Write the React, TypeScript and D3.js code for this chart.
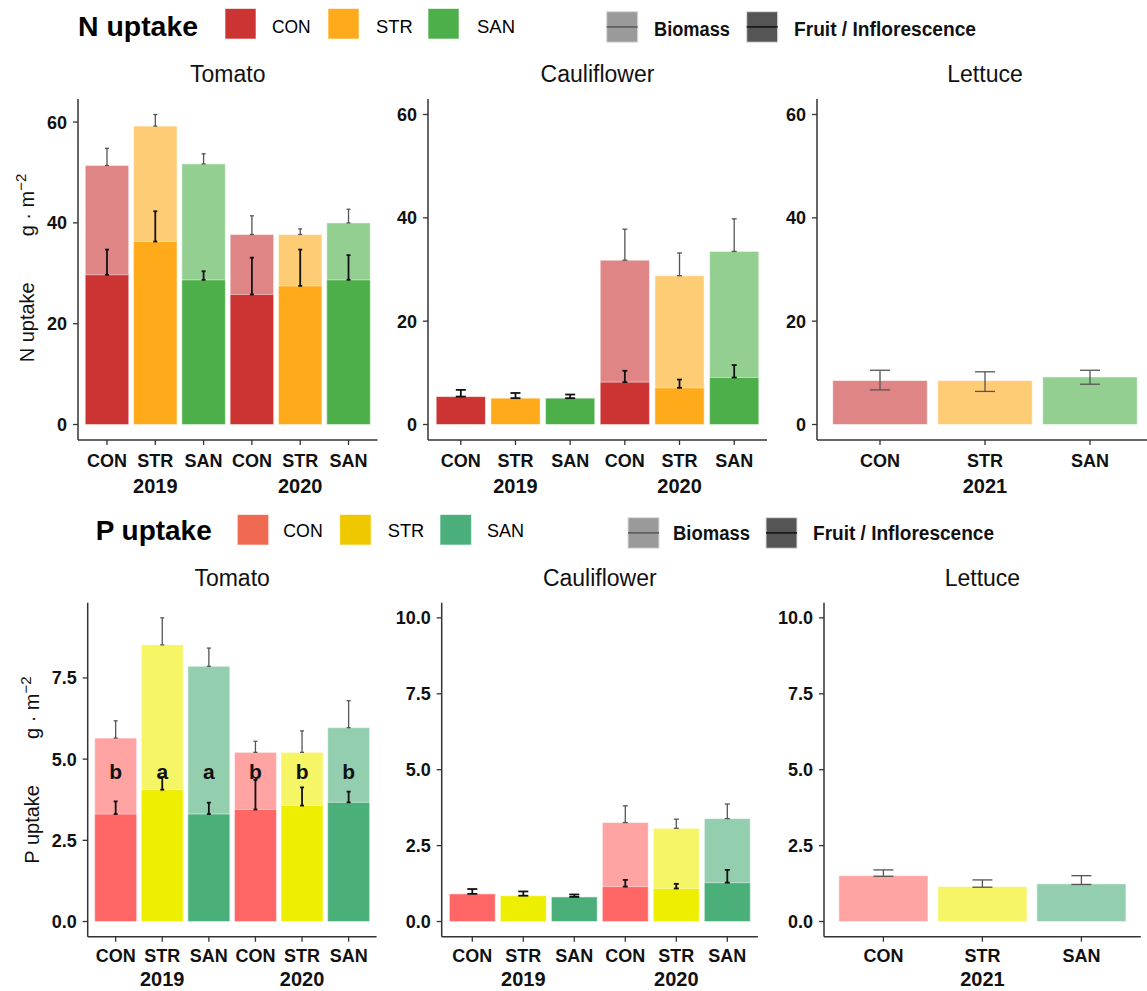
import React from "react";
import * as d3 from "d3";

// treatments and colours
const treatments = ["CON", "STR", "SAN"];
const nColors = ["#CC3333", "#FFAA1A", "#4DAF4A"];
const pColors = ["#FF6666", "#EEEE00", "#4BAF7A"];
const pLegendColors = ["#EF6A51", "#F0C800", "#4BAF7C"];
const partLabels = ["Biomass", "Fruit / Inflorescence"];

// N uptake (g m-2), order: 2019 CON STR SAN, 2020 CON STR SAN
const tomatoYears = ["2019", "2020"];
const tomatoNBiomass = [51.4, 59.2, 51.7, 37.7, 37.7, 40.0];
const tomatoNBiomassHi = [54.8, 61.5, 53.7, 41.4, 38.8, 42.7];
const tomatoNFruit = [29.7, 36.3, 28.7, 25.8, 27.5, 28.7];
const tomatoNFruitHi = [34.7, 42.3, 30.4, 33.1, 34.7, 33.6];

const cauliYears = ["2019", "2020"];
const cauliNBiomass = [null, null, null, 31.8, 28.8, 33.5];
const cauliNBiomassHi = [null, null, null, 37.8, 33.2, 39.8];
const cauliNFruit = [5.4, 5.1, 5.1, 8.2, 7.1, 9.1];
const cauliNFruitHi = [6.7, 6.1, 5.8, 10.4, 8.7, 11.5];

const lettuceYears = ["2021"];
const lettuceNBiomass = [8.5, 8.5, 9.2];
const lettuceNBiomassLo = [6.7, 6.4, 7.8];
const lettuceNBiomassHi = [10.5, 10.2, 10.5];

// P uptake (g m-2)
const tomatoPBiomass = [5.65, 8.52, 7.86, 5.21, 5.21, 5.97];
const tomatoPBiomassHi = [6.18, 9.35, 8.42, 5.55, 5.87, 6.8];
const tomatoPFruit = [3.31, 4.06, 3.31, 3.45, 3.57, 3.67];
const tomatoPFruitHi = [3.7, 4.45, 3.66, 4.36, 4.13, 4.0];
const tomatoPLetters = ["b", "a", "a", "b", "b", "b"];

const cauliPBiomass = [null, null, null, 3.26, 3.07, 3.39];
const cauliPBiomassHi = [null, null, null, 3.81, 3.37, 3.87];
const cauliPFruit = [0.91, 0.85, 0.81, 1.15, 1.09, 1.28];
const cauliPFruitHi = [1.07, 0.99, 0.89, 1.37, 1.24, 1.7];

const lettucePBiomass = [1.51, 1.15, 1.24];
const lettucePBiomassLo = [1.49, 1.13, 1.22];
const lettucePBiomassHi = [1.7, 1.37, 1.51];

const nTicks = [0, 20, 40, 60];
const pTicksTomato = [0, 2.5, 5, 7.5];
const pTicks = [0, 2.5, 5, 7.5, 10];

const FONT = "'Liberation Sans', Arial, sans-serif";

type PanelProps = {
  title: string;
  x0: number;
  x1: number;
  yTop: number;
  yAxis: number;
  domain: [number, number];
  ticks: number[];
  fmt: (v: number) => string;
  years: string[];
  colors: string[];
  biomass?: (number | null)[];
  biomassLo?: (number | null)[];
  biomassHi?: (number | null)[];
  fruit?: (number | null)[];
  fruitHi?: (number | null)[];
  caps: number[];
  letters?: string[];
  letterY?: number;
  labelOff: number;
  yearOff: number;
};

const Panel = (p: PanelProps) => {
  const keys = p.years.flatMap((yr) => treatments.map((t) => `${yr}-${t}`));
  const x = d3
    .scaleBand()
    .domain(keys)
    .range([p.x0, p.x1])
    .paddingInner(0.1)
    .paddingOuter(0.15);
  const y = d3.scaleLinear().domain(p.domain).range([p.yAxis, p.yTop]);
  const bw = x.bandwidth();
  const cx = (k: string) => (x(k) as number) + bw / 2;

  return (
    <g>
      <text
        x={(p.x0 + p.x1) / 2}
        y={p.yTop - 17}
        textAnchor="middle"
        fontSize={23}
        fill="#111"
      >
        {p.title}
      </text>

      {/* bars */}
      {keys.map((k, i) => {
        const ci = i % 3;
        const b = p.biomass ? p.biomass[i] : null;
        const f = p.fruit ? p.fruit[i] : null;
        return (
          <g key={k}>
            {b != null && (
              <rect
                x={x(k)}
                y={y(b)}
                width={bw}
                height={y(0) - y(b)}
                fill={p.colors[ci]}
                fillOpacity={0.6}
                stroke="#fff"
                strokeOpacity={0.5}
              />
            )}
            {f != null && (
              <rect
                x={x(k)}
                y={y(f)}
                width={bw}
                height={y(0) - y(f)}
                fill={p.colors[ci]}
                stroke="#fff"
                strokeOpacity={0.5}
              />
            )}
          </g>
        );
      })}

      {/* error bars */}
      {keys.map((k, i) => {
        const cap = p.caps[Math.floor(i / 3)] / 2;
        const xc = cx(k);
        const out = [];
        const b = p.biomass ? p.biomass[i] : null;
        if (b != null && p.biomassHi) {
          const lo = p.biomassLo ? (p.biomassLo[i] as number) : b;
          const hi = p.biomassHi[i] as number;
          out.push(
            <g key="b" stroke="#555" strokeWidth={1.3} fill="none">
              <line x1={xc} x2={xc} y1={y(lo)} y2={y(hi)} />
              <line x1={xc - cap} x2={xc + cap} y1={y(lo)} y2={y(lo)} />
              <line x1={xc - cap} x2={xc + cap} y1={y(hi)} y2={y(hi)} />
            </g>
          );
        }
        const f = p.fruit ? p.fruit[i] : null;
        if (f != null && p.fruitHi) {
          const hi = p.fruitHi[i] as number;
          out.push(
            <g key="f" stroke="#111" strokeWidth={1.8} fill="none">
              <line x1={xc} x2={xc} y1={y(f)} y2={y(hi)} />
              <line x1={xc - cap} x2={xc + cap} y1={y(f)} y2={y(f)} />
              <line x1={xc - cap} x2={xc + cap} y1={y(hi)} y2={y(hi)} />
            </g>
          );
        }
        return <g key={k}>{out}</g>;
      })}

      {p.letters &&
        keys.map((k, i) => (
          <text
            key={k}
            x={cx(k)}
            y={y(p.letterY as number)}
            dy="0.35em"
            textAnchor="middle"
            fontSize={21}
            fontWeight="bold"
            fill="#111"
          >
            {p.letters![i]}
          </text>
        ))}

      {/* y axis */}
      <line
        x1={p.x0}
        x2={p.x0}
        y1={p.yTop}
        y2={p.yAxis}
        stroke="#333"
        strokeWidth={1.5}
      />
      {p.ticks.map((t) => (
        <g key={t}>
          <line
            x1={p.x0 - 5}
            x2={p.x0}
            y1={y(t)}
            y2={y(t)}
            stroke="#333"
            strokeWidth={1.3}
          />
          <text
            x={p.x0 - 11}
            y={y(t)}
            dy="0.36em"
            textAnchor="end"
            fontSize={18}
            fontWeight="bold"
            fill="#111"
          >
            {p.fmt(t)}
          </text>
        </g>
      ))}

      {/* x axis */}
      <line
        x1={p.x0}
        x2={p.x1}
        y1={p.yAxis}
        y2={p.yAxis}
        stroke="#333"
        strokeWidth={1.5}
      />
      {keys.map((k, i) => (
        <g key={k}>
          <line
            x1={cx(k)}
            x2={cx(k)}
            y1={p.yAxis}
            y2={p.yAxis + 5}
            stroke="#333"
            strokeWidth={1.3}
          />
          <text
            x={cx(k)}
            y={p.yAxis + p.labelOff}
            textAnchor="middle"
            fontSize={18}
            fontWeight="bold"
            fill="#111"
          >
            {treatments[i % 3]}
          </text>
        </g>
      ))}
      {p.years.map((yr) => (
        <text
          key={yr}
          x={cx(`${yr}-STR`)}
          y={p.yAxis + p.yearOff}
          textAnchor="middle"
          fontSize={20}
          fontWeight="bold"
          fill="#111"
        >
          {yr}
        </text>
      ))}
    </g>
  );
};

type LegendProps = {
  title: string;
  titleX: number;
  titleW: number;
  base: number;
  colors: string[];
  keyX: number[];
  keyW: number;
  keyTop: number;
  labelX: number[];
  labelW: number[];
  grayX: number[];
  grayTop: number;
  grayLabelX: number[];
  grayLabelW: number[];
};

const Legend = (l: LegendProps) => (
  <g>
    <text
      x={l.titleX}
      y={l.base}
      fontSize={28}
      fontWeight="bold"
      fill="#000"
      textLength={l.titleW}
      lengthAdjust="spacingAndGlyphs"
    >
      {l.title}
    </text>
    {treatments.map((t, i) => (
      <g key={t}>
        <rect
          x={l.keyX[i]}
          y={l.keyTop}
          width={l.keyW}
          height={30.5}
          fill={l.colors[i]}
          stroke="#fff"
          strokeOpacity={0.6}
        />
        <text
          x={l.labelX[i]}
          y={l.base - 3}
          fontSize={19}
          fill="#000"
          textLength={l.labelW[i]}
          lengthAdjust="spacingAndGlyphs"
        >
          {t}
        </text>
      </g>
    ))}
    {partLabels.map((lab, i) => (
      <g key={lab}>
        <rect
          x={l.grayX[i]}
          y={l.grayTop}
          width={31}
          height={30.5}
          fill={i === 0 ? "#9A9A9A" : "#555555"}
          stroke="#ddd"
        />
        <line
          x1={l.grayX[i]}
          x2={l.grayX[i] + 31}
          y1={l.grayTop + 15.2}
          y2={l.grayTop + 15.2}
          stroke={i === 0 ? "#555" : "#111"}
          strokeWidth={1.5}
        />
        <text
          x={l.grayLabelX[i]}
          y={l.base}
          fontSize={20}
          fontWeight="bold"
          fill="#111"
          textLength={l.grayLabelW[i]}
          lengthAdjust="spacingAndGlyphs"
        >
          {lab}
        </text>
      </g>
    ))}
  </g>
);

const YLabel = ({ x, y, name }: { x: number; y: number; name: string }) => (
  <text
    transform={`translate(${x},${y}) rotate(-90)`}
    textAnchor="middle"
    fontSize={20}
    fill="#111"
  >
    <tspan>{name}</tspan>
    <tspan dx={46}>g · m</tspan>
    <tspan dy={-8} fontSize={15}>
      −2
    </tspan>
  </text>
);

const App = () => {
  const tomNMax = d3.max(tomatoNBiomassHi) as number;
  const tomPMax = d3.max(tomatoPBiomassHi) as number;
  const fmtN = (v: number) => d3.format("d")(v);
  const fmtP = (v: number) => d3.format(".1f")(v);

  return (
    <svg
      width={1147}
      height={991}
      style={{ position: "absolute", left: 0, top: 0, background: "#fff" }}
      fontFamily={FONT}
    >
      <rect width={1147} height={991} fill="#fff" />

      <Legend
        title="N uptake"
        titleX={78}
        titleW={120}
        base={36}
        colors={nColors}
        keyX={[225, 328, 428]}
        keyW={31}
        keyTop={8.5}
        labelX={[272, 376, 477]}
        labelW={[38.7, 36.7, 38]}
        grayX={[606.7, 746.7]}
        grayTop={11.7}
        grayLabelX={[654, 794]}
        grayLabelW={[76, 182]}
      />
      <YLabel x={34} y={268} name="N uptake" />
      <Panel
        title="Tomato"
        x0={78}
        x1={377.5}
        yTop={99}
        yAxis={440}
        domain={[-0.05 * tomNMax, 1.05 * tomNMax]}
        ticks={nTicks}
        fmt={fmtN}
        years={tomatoYears}
        colors={nColors}
        biomass={tomatoNBiomass}
        biomassHi={tomatoNBiomassHi}
        fruit={tomatoNFruit}
        fruitHi={tomatoNFruitHi}
        caps={[4, 4]}
        labelOff={26.7}
        yearOff={53}
      />
      <Panel
        title="Cauliflower"
        x0={428}
        x1={767}
        yTop={99}
        yAxis={440}
        domain={[-3, 63]}
        ticks={nTicks}
        fmt={fmtN}
        years={cauliYears}
        colors={nColors}
        biomass={cauliNBiomass}
        biomassHi={cauliNBiomassHi}
        fruit={cauliNFruit}
        fruitHi={cauliNFruitHi}
        caps={[10, 5]}
        labelOff={26.7}
        yearOff={53}
      />
      <Panel
        title="Lettuce"
        x0={817}
        x1={1153}
        yTop={99}
        yAxis={440}
        domain={[-3, 63]}
        ticks={nTicks}
        fmt={fmtN}
        years={lettuceYears}
        colors={nColors}
        biomass={lettuceNBiomass}
        biomassLo={lettuceNBiomassLo}
        biomassHi={lettuceNBiomassHi}
        caps={[20]}
        labelOff={26.7}
        yearOff={53}
      />

      <Legend
        title="P uptake"
        titleX={95.7}
        titleW={116}
        base={540}
        colors={pLegendColors}
        keyX={[237.3, 339.7, 440]}
        keyW={31.4}
        keyTop={514.5}
        labelX={[283.3, 387.8, 487]}
        labelW={[39.4, 36.5, 37]}
        grayX={[628, 766]}
        grayTop={517.7}
        grayLabelX={[673, 813]}
        grayLabelW={[77, 181]}
      />
      <YLabel x={39} y={770} name="P uptake" />
      <Panel
        title="Tomato"
        x0={87.7}
        x1={376.6}
        yTop={602.7}
        yAxis={936.7}
        domain={[-0.05 * tomPMax, 1.05 * tomPMax]}
        ticks={pTicksTomato}
        fmt={fmtP}
        years={tomatoYears}
        colors={pColors}
        biomass={tomatoPBiomass}
        biomassHi={tomatoPBiomassHi}
        fruit={tomatoPFruit}
        fruitHi={tomatoPFruitHi}
        caps={[4, 4]}
        letters={tomatoPLetters}
        letterY={4.6}
        labelOff={25.5}
        yearOff={49.5}
      />
      <Panel
        title="Cauliflower"
        x0={441.7}
        x1={757.9}
        yTop={602.7}
        yAxis={936.7}
        domain={[-0.5, 10.5]}
        ticks={pTicks}
        fmt={fmtP}
        years={cauliYears}
        colors={pColors}
        biomass={cauliPBiomass}
        biomassHi={cauliPBiomassHi}
        fruit={cauliPFruit}
        fruitHi={cauliPFruitHi}
        caps={[10, 5]}
        labelOff={25.5}
        yearOff={49.5}
      />
      <Panel
        title="Lettuce"
        x0={824}
        x1={1140.8}
        yTop={602.7}
        yAxis={936.7}
        domain={[-0.5, 10.5]}
        ticks={pTicks}
        fmt={fmtP}
        years={lettuceYears}
        colors={pColors}
        biomass={lettucePBiomass}
        biomassLo={lettucePBiomassLo}
        biomassHi={lettucePBiomassHi}
        caps={[20]}
        labelOff={25.5}
        yearOff={49.5}
      />
    </svg>
  );
};

export default App;
